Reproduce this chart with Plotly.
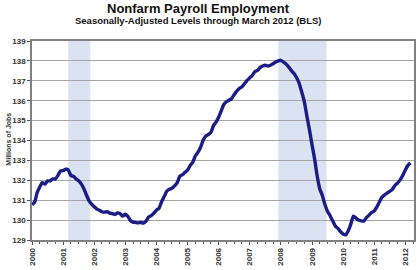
import plotly.graph_objects as go
import pandas as pd

# Monthly nonfarm payroll levels, millions (Jan 2000 - Mar 2012)
months = pd.date_range("2000-01-01", "2012-03-01", freq="MS").strftime("%Y-%m-%d").tolist()
jobs = [
    # 2000
    130.78, 130.90, 131.37, 131.66, 131.88, 131.81, 131.97, 131.97, 132.07, 132.07, 132.25, 132.47,
    # 2001
    132.49, 132.56, 132.53, 132.24, 132.20, 132.07, 131.98, 131.82, 131.58, 131.26, 130.97, 130.80,
    # 2002
    130.67, 130.55, 130.50, 130.42, 130.40, 130.42, 130.35, 130.32, 130.28, 130.36, 130.32, 130.20,
    # 2003
    130.30, 130.18, 129.98, 129.90, 129.88, 129.86, 129.88, 129.85, 129.95, 130.15, 130.22, 130.35,
    # 2004
    130.50, 130.60, 130.92, 131.18, 131.45, 131.55, 131.60, 131.72, 131.88, 132.20, 132.28, 132.40,
    # 2005
    132.52, 132.75, 132.90, 133.22, 133.40, 133.65, 134.00, 134.22, 134.30, 134.40, 134.75, 134.92,
    # 2006
    135.18, 135.50, 135.80, 135.95, 136.02, 136.10, 136.30, 136.48, 136.62, 136.70, 136.86, 137.02,
    # 2007
    137.15, 137.28, 137.45, 137.52, 137.66, 137.74, 137.78, 137.74, 137.78, 137.86, 137.94, 138.00,
    # 2008
    138.03, 137.94, 137.85, 137.70, 137.52, 137.38, 137.18, 136.90, 136.45, 135.98, 135.24, 134.55,
    # 2009
    133.78, 133.05, 132.25, 131.58, 131.25, 130.78, 130.45, 130.22, 129.95, 129.70, 129.58, 129.42,
    # 2010
    129.30, 129.26, 129.45, 129.80, 130.20, 130.10, 130.00, 129.96, 129.95, 130.12, 130.25, 130.38,
    # 2011
    130.46, 130.66, 130.90, 131.15, 131.26, 131.36, 131.44, 131.54, 131.74, 131.86, 132.02, 132.24,
    # 2012
    132.52, 132.75, 132.88,
]

recession_starts = ["2001-03-01", "2007-12-01"]
recession_ends = ["2001-11-15", "2009-06-20"]

year_ticks = [f"{y}-01-01" for y in range(2000, 2013)]
year_labels = [str(y) for y in range(2000, 2013)]
y_ticks = list(range(129, 140))
y_labels = [str(v) for v in y_ticks]

title_text = "Nonfarm Payroll Employment"
subtitle_text = "Seasonally-Adjusted Levels through March 2012 (BLS)"
y_title = "Millions of Jobs"

fig = go.Figure()

for s, e in zip(recession_starts, recession_ends):
    fig.add_shape(type="rect", xref="x", yref="paper", x0=s, x1=e, y0=0, y1=1,
                  fillcolor="#dbe3f2", line_width=0, layer="below")

fig.add_trace(go.Scatter(
    x=months, y=jobs, mode="lines",
    line=dict(color="#1c1c86", width=3.4, shape="spline", smoothing=0.5),
    hoverinfo="skip", showlegend=False,
))

font_family = "Liberation Sans, Arial, sans-serif"

fig.update_layout(
    width=420, height=270,
    margin=dict(l=32, r=4, t=41, b=25),
    paper_bgcolor="white", plot_bgcolor="white",
    font=dict(family=font_family, color="#222222"),
    showlegend=False,
    xaxis=dict(
        type="date",
        range=["2000-01-01", "2012-04-12"],
        tickvals=year_ticks, ticktext=[f"<b>{t}</b>" for t in year_labels],
        tickangle=-90,
        tickfont=dict(size=8, family=font_family, color="#333333"),
        ticks="outside", ticklen=3, tickcolor="#555555",
        minor=dict(dtick="M3", tick0="2000-01-01", ticks="outside", ticklen=2, tickcolor="#555555", showgrid=False),
        showgrid=False, zeroline=False,
        showline=True, linecolor="#808080", linewidth=1.5, mirror=True,
    ),
    yaxis=dict(
        range=[129, 139],
        tickvals=y_ticks, ticktext=[f"<b>{t}</b>" for t in y_labels],
        tickfont=dict(size=8, family=font_family, color="#333333"),
        ticks="outside", ticklen=3, tickcolor="#555555",
        showgrid=True, gridcolor="#a6a6a6", gridwidth=1,
        zeroline=False,
        showline=True, linecolor="#808080", linewidth=1.5, mirror=True,
    ),
    annotations=[
        dict(text=f"<b>{title_text}</b>", x=0.435, y=1.162, xref="paper", yref="paper",
             xanchor="center", yanchor="middle", showarrow=False,
             font=dict(size=13, family=font_family, color="#111111")),
        dict(text=f"<b>{subtitle_text}</b>", x=0.435, y=1.102, xref="paper", yref="paper",
             xanchor="center", yanchor="middle", showarrow=False,
             font=dict(size=9.5, family=font_family, color="#111111")),
        dict(text=f"<b>{y_title}</b>", x=-0.0625, y=0.505, xref="paper", yref="paper",
             xanchor="center", yanchor="middle", showarrow=False, textangle=-90,
             font=dict(size=7, family=font_family, color="#333333")),
    ],
)

fig.write_html("out.html")
